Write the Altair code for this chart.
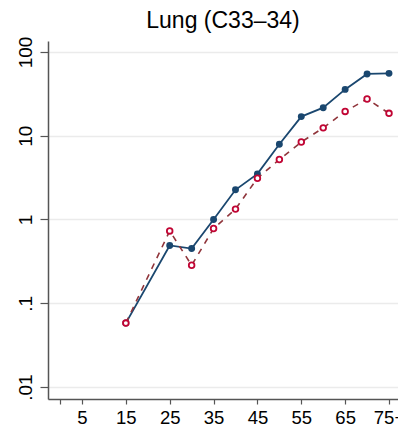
import altair as alt
import pandas as pd

ages = [15, 25, 30, 35, 40, 45, 50, 55, 60, 65, 70, 75]
rate_solid = [0.058, 0.49, 0.45, 1.0, 2.26, 3.5, 7.9, 16.9, 21.6, 35.7, 54.6, 55.5]
rate_hollow = [0.058, 0.73, 0.284, 0.78, 1.33, 3.11, 5.2, 8.4, 12.4, 19.5, 27.4, 18.5]
x_ticks = [0, 5, 15, 25, 35, 45, 55, 65, 75]
y_ticks = [0.01, 0.1, 1, 10, 100]

df_s = pd.DataFrame({"age": ages, "rate": rate_solid})
df_h = pd.DataFrame({"age": ages, "rate": rate_hollow})

FONT = "Liberation Sans"
NAVY = "#1a476f"
MAROON = "#90353b"
CRIMSON = "#c10534"

xs = alt.X("age:Q", scale=alt.Scale(domain=[-2.75, 77.05], nice=False, zero=False),
           axis=alt.Axis(values=x_ticks, title=None, grid=False,
                         labelExpr="datum.value == 0 ? '' : (datum.value == 75 ? '75+' : datum.label)",
                         tickSize=5, labelPadding=19, labelBaseline="alphabetic",
                         labelFontSize=18.5, labelFont=FONT,
                         labelColor="black", labelFlush=False, labelOverlap=False))
ys = alt.Y("rate:Q", scale=alt.Scale(type="log", domain=[0.0072, 135], nice=False),
           axis=alt.Axis(values=y_ticks, title=None, grid=True,
                         labelExpr="datum.value < 0.05 ? '.01' : (datum.value < 0.5 ? '.1' : (datum.value < 5 ? '1' : (datum.value < 50 ? '10' : '100')))",
                         tickSize=8, labelAngle=270, labelAlign="center", labelBaseline="alphabetic",
                         labelPadding=9, labelFontSize=19, labelFont=FONT, labelColor="black",
                         labelFlush=False, labelOverlap=False))

line_s = alt.Chart(df_s).mark_line(color=NAVY, strokeWidth=1.8).encode(x=xs, y=ys)
pts_s = alt.Chart(df_s).mark_point(shape="circle", filled=True, color=NAVY, size=48, opacity=1).encode(x=xs, y=ys)
line_h = alt.Chart(df_h).mark_line(color=MAROON, strokeWidth=1.6, strokeDash=[6, 6]).encode(x=xs, y=ys)
pts_h = alt.Chart(df_h).mark_point(shape="circle", filled=False, fill="white", fillOpacity=1,
                                   stroke=CRIMSON, strokeWidth=1.8, size=32, opacity=1).encode(x=xs, y=ys)

chart = (line_s + pts_s + line_h + pts_h).properties(
    width=350, height=358,
    title=alt.TitleParams("Lung (C33–34)", font=FONT, fontSize=23, fontWeight="normal",
                          color="black", anchor="middle", offset=3),
    autosize=alt.AutoSizeParams(type="none"),
    padding={"left": 40, "top": 33, "right": 0, "bottom": 30},
).configure_view(stroke=None).configure_axis(
    domainColor="#555555", domainWidth=1.5, tickColor="#555555", tickWidth=1.2,
    gridColor="#ebebeb", gridWidth=1.5,
)

chart.save("out.html", embed_options={"renderer": "svg", "actions": False})
